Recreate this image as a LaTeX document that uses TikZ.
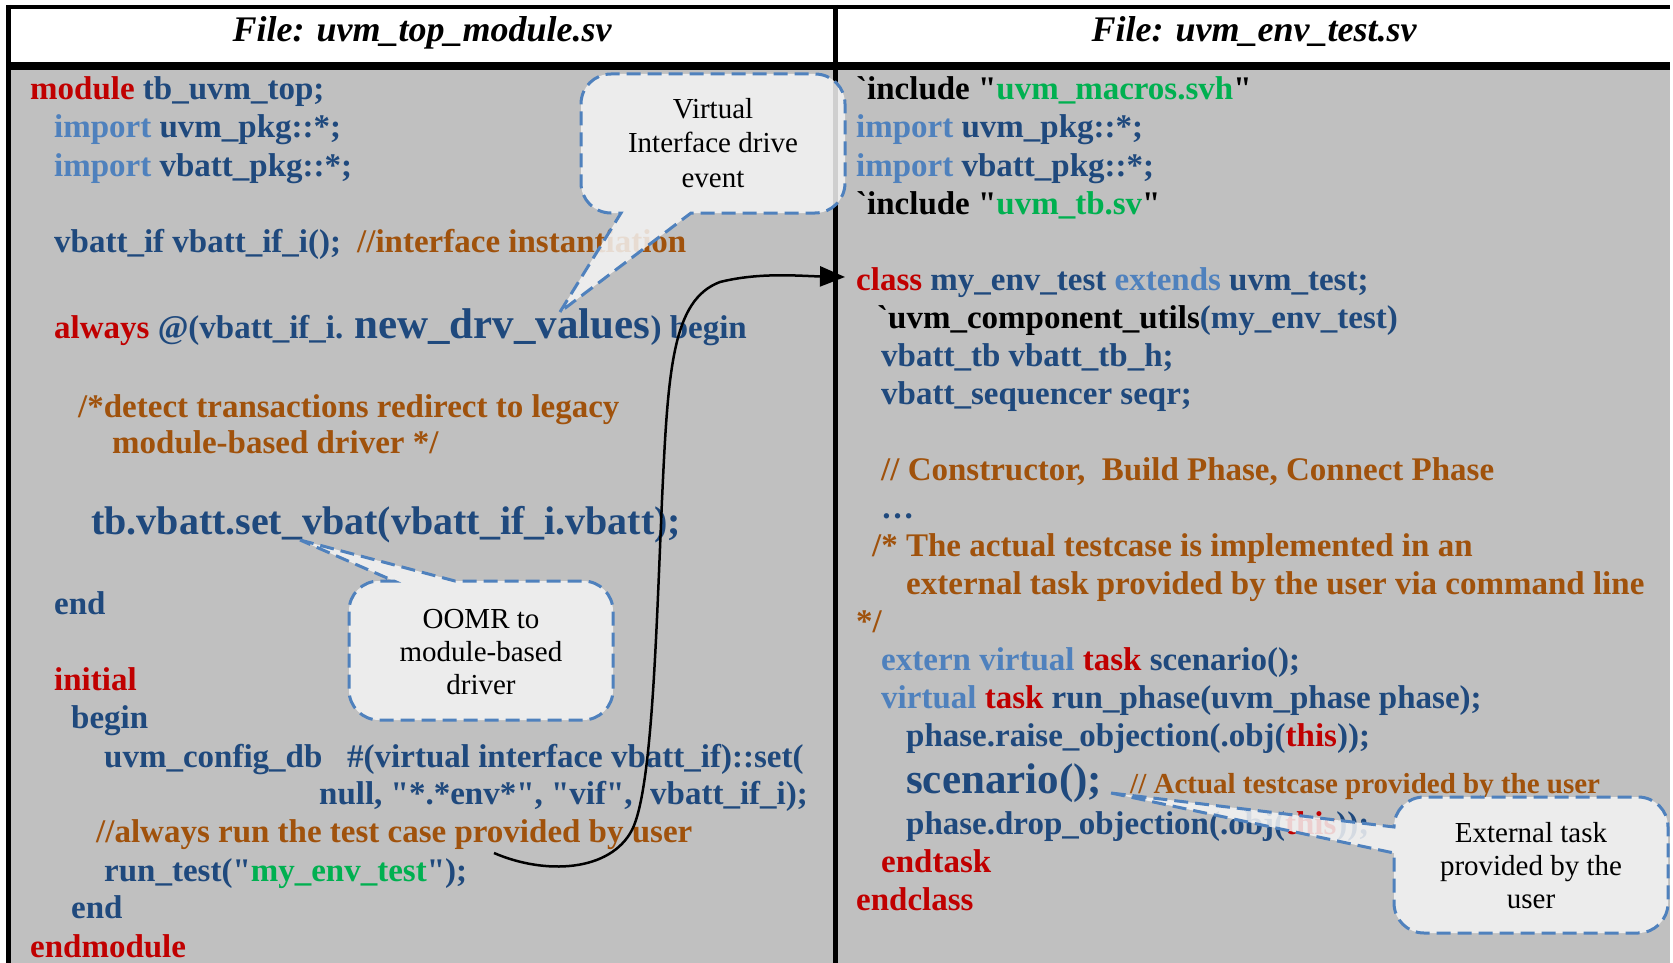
\documentclass[tikz,border=0pt]{standalone}
\usepackage{fontspec}
\setmainfont{Liberation Serif}[Ligatures=TeXOff]
\usetikzlibrary{arrows.meta}
\definecolor{kwred}{HTML}{C00000}
\definecolor{idblue}{HTML}{1F497D}
\definecolor{ltblue}{HTML}{4F81BD}
\definecolor{cmbrown}{HTML}{A0520C}
\definecolor{strgreen}{HTML}{00B050}
\definecolor{bggray}{HTML}{C0C0C0}
\definecolor{callfill}{HTML}{F4F4F4}
\definecolor{callline}{HTML}{4F81BD}
\newcommand\kw[1]{\textcolor{kwred}{#1}}
\newcommand\lbl[1]{\textcolor{ltblue}{#1}}
\newcommand\cmt[1]{\textcolor{cmbrown}{#1}}
\newcommand\strg[1]{\textcolor{strgreen}{#1}}
\newcommand\blk[1]{\textcolor{black}{#1}}
\tikzset{
  code/.style={anchor=base west, inner sep=0pt, font=\fontsize{33}{38}\selectfont\bfseries, text=idblue},
  bigcode/.style={code, font=\fontsize{#1}{46}\selectfont\bfseries},
  hdr/.style={anchor=base, inner sep=0pt, font=\fontsize{36}{40}\selectfont\bfseries\itshape},
  calltext/.style={anchor=base, inner sep=0pt, font=\fontsize{29}{34}\selectfont, text=black},
  callout/.style={fill=callfill, fill opacity=0.85, draw=callline, line width=3pt, dash pattern=on 14pt off 7pt},
  arrowline/.style={draw=black, line width=2.5pt, -{Triangle[length=25pt,width=20pt]}},
}
\begin{document}
\begin{tikzpicture}[x=1pt,y=-1pt]
\useasboundingbox (0,0) rectangle (1673,963);
% backgrounds
\fill[white] (0,0) rectangle (1673,963);
\fill[bggray] (11,70) rectangle (1670,963);
% frame
\draw[line width=4pt] (6,7) -- (1670,7);
\draw[line width=8pt] (6,66) -- (1670,66);
\draw[line width=5pt] (8.5,5) -- (8.5,963);
\draw[line width=5pt] (835.5,5) -- (835.5,963);
% headers
\node[hdr] (h1) at (422,42) {File: uvm\_top\_module.sv};
\node[hdr] (h2) at (1254,42) {File: uvm\_env\_test.sv};
% left column
\node[code] (L1) at (30,100) {\kw{module} tb\_uvm\_top;};
\node[code] (L2) at (54,138) {\lbl{import} uvm\_pkg::*;};
\node[code] (L3) at (54,176) {\lbl{import} vbatt\_pkg::*;};
\node[code] (L4) at (54,252) {vbatt\_if vbatt\_if\_i();};
\node[code] (L4c) at (357,252) {\cmt{//interface instantiation}};
\node[code] (L5) at (54,338) {\kw{always} @(vbatt\_if\_i. {\fontsize{43}{38}\selectfont new\_drv\_values}) begin};
\node[code] (L6) at (78,417) {\cmt{/*detect transactions redirect to legacy}};
\node[code] (L7) at (112,453) {\cmt{module-based driver */}};
\node[bigcode=40] (L8) at (91,534) {tb.vbatt.set\_vbat(vbatt\_if\_i.vbatt);};
\node[code] (L9) at (54,614) {end};
\node[code] (L10) at (54,690) {\kw{initial}};
\node[code] (L11) at (71,728) {begin};
\node[code] (L12) at (104,767) {uvm\_config\_db};
\node[code] (L12b) at (347,767) {\#(virtual interface vbatt\_if)::set(};
\node[code] (L13) at (319,804) {null, "*.*env*", "vif",};
\node[code] (L13b) at (650,804) {vbatt\_if\_i);};
\node[code] (L14) at (96,842) {\cmt{//always run the test case provided by user}};
\node[code] (L15) at (104,881) {run\_test("\strg{my\_env\_test}");};
\node[code] (L16) at (71,918) {end};
\node[code] (L17) at (30,957) {\kw{endmodule}};
% right column
\node[code] (R1) at (856,100) {\blk{`include "}\strg{uvm\_macros.svh}\blk{"}};
\node[code] (R2) at (856,138) {\lbl{import} uvm\_pkg::*;};
\node[code] (R3) at (856,176) {\lbl{import} vbatt\_pkg::*;};
\node[code] (R4) at (856,214) {\blk{`include "}\strg{uvm\_tb.sv}\blk{"}};
\node[code] (R5) at (856,290) {\kw{class} my\_env\_test \lbl{extends} uvm\_test;};
\node[code] (R6) at (877,328) {\blk{`uvm\_component\_utils}(my\_env\_test)};
\node[code] (R7) at (881,366) {vbatt\_tb vbatt\_tb\_h;};
\node[code] (R8) at (881,404) {vbatt\_sequencer seqr;};
\node[code] (R9) at (881,480) {\cmt{// Constructor,\ \ Build Phase, Connect Phase}};
\node[code] (R10) at (881,518) {…};
\node[code] (R11) at (872,556) {\cmt{/* The actual testcase is implemented in an}};
\node[code] (R12) at (906,594) {\cmt{external task provided by the user via command line}};
\node[code] (R13) at (856,632) {\cmt{*/}};
\node[code] (R14) at (881,670) {\lbl{extern virtual} \kw{task} scenario();};
\node[code] (R15) at (881,708) {\lbl{virtual} \kw{task} run\_phase(uvm\_phase phase);};
\node[code] (R16) at (906,746) {phase.raise\_objection(.obj(\kw{this}));};
\node[bigcode=43] (R17) at (906,793) {scenario();};
\node[bigcode=29] (R17c) at (1130,793) {\cmt{// Actual testcase provided by the user}};
\node[code] (R18) at (906,834) {phase.drop\_objection(.obj(\kw{this}));};
\node[code] (R19) at (881,872) {\kw{endtask}};
\node[code] (R20) at (856,910) {\kw{endclass}};
% connector
\coordinate (arrsrc) at (494,853);
\coordinate (arrdst) at (845,277);
\draw[arrowline] (arrsrc) .. controls (545,875) and (610,872) .. (632,830)
   .. controls (652,790) and (656,640) .. (662,500)
   .. controls (668,370) and (672,300) .. (720,282)
   .. controls (760,272) and (800,276) .. (arrdst);
% callout 1
\path[callout] (560,312) -- (621,213) -- (611,213) .. controls (594.4,213) and (581,199.6) .. (581,183)
   -- (581,104) .. controls (581,87.4) and (594.4,74) .. (611,74)
   -- (815,74) .. controls (831.6,74) and (845,87.4) .. (845,104)
   -- (845,183) .. controls (845,199.6) and (831.6,213) .. (815,213) -- (691,213) -- cycle;
\node[calltext] (c1a) at (713,119) {Virtual};
\node[calltext] (c1b) at (713,153) {Interface drive};
\node[calltext] (c1c) at (713,187) {event};
% callout 2
\path[callout] (300,540) -- (455,581) -- (583,581) .. controls (599.6,581) and (613,594.4) .. (613,611)
   -- (613,690) .. controls (613,706.6) and (599.6,720) .. (583,720)
   -- (379,720) .. controls (362.4,720) and (349,706.6) .. (349,690)
   -- (349,611) .. controls (349,594.4) and (362.4,581) .. (379,581) -- (394,581) -- cycle;
\node[calltext] (c2a) at (481,628) {OOMR to};
\node[calltext] (c2b) at (481,661) {module-based};
\node[calltext] (c2c) at (481,694) {driver};
% callout 3
\path[callout] (1111,793) -- (1394,853) -- (1394,903) .. controls (1394,919.6) and (1407.4,933) .. (1424,933)
   -- (1638,933) .. controls (1654.6,933) and (1668,919.6) .. (1668,903)
   -- (1668,827) .. controls (1668,810.4) and (1654.6,797) .. (1638,797)
   -- (1424,797) .. controls (1407.4,797) and (1394,810.4) .. (1394,827) -- cycle;
\node[calltext] (c3a) at (1531,842) {External task};
\node[calltext] (c3b) at (1531,875) {provided by the};
\node[calltext] (c3c) at (1531,908) {user};
\end{tikzpicture}
\end{document}
